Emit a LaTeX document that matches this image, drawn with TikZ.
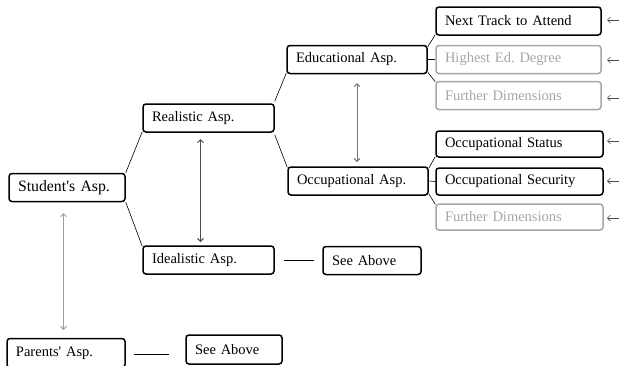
\documentclass[tikz,border=0pt]{standalone}
\usepackage{fontspec}
\setmainfont{Liberation Serif}
\usetikzlibrary{arrows.meta}
\definecolor{dimgray}{HTML}{A6A6A6}
\tikzset{
  box/.style={draw, line width=1.5pt, rounded corners=3pt, inner xsep=9pt,
    inner ysep=0pt, minimum height=28pt, align=left, font=\fontsize{14.5}{16}\selectfont,
    anchor=center},
  faded/.style={box, draw=dimgray, text=dimgray},
  link/.style={line width=0.6pt},
  rel/.style={line width=0.9pt, {Straight Barb[length=3pt,width=6pt]}-{Straight Barb[length=3pt,width=6pt]}},
  pointer/.style={line width=0.6pt, draw=black!70, -{Straight Barb[length=3pt,width=6pt]}}
}
\frenchspacing
\begin{document}
\begin{tikzpicture}[x=1pt,y=-1pt]
\useasboundingbox (0,0) rectangle (619,365);

% left column
\node[box, text width=98pt, font=\fontsize{15.8}{17}\selectfont] (stud) at (67,187.5) {Student\textquotesingle s Asp.};
\node[box, text width=100pt, minimum height=29pt] (par) at (66,353) {Parents\textquotesingle\ Asp.};
\node[box, text width=78pt, minimum height=29pt] (seeB) at (234,349.5) {See Above};

% middle column
\node[box, text width=113pt] (real) at (208.5,118) {Realistic Asp.};
\node[box, text width=113pt] (ideal) at (208.5,260) {Idealistic Asp.};
\node[box, text width=80pt] (seeA) at (372,260.5) {See Above};

% domains
\node[box, text width=122pt] (edu) at (357,59.5) {Educational Asp.};
\node[box, text width=122pt] (occ) at (358,181) {Occupational Asp.};

% dimensions
\node[box, text width=147pt] (track) at (518.5,21) {Next Track to Attend};
\node[faded, text width=147pt] (degree) at (518.5,59.5) {Highest Ed. Degree};
\node[faded, text width=147pt] (furthE) at (518.5,95.5) {Further Dimensions};
\node[box, text width=149pt, minimum height=26pt] (status) at (519.5,144) {Occupational Status};
\node[box, text width=149pt, minimum height=27pt] (secur) at (519.5,181.5) {Occupational Security};
\node[faded, text width=149pt, minimum height=26pt] (furthO) at (519.5,217) {Further Dimensions};

% tree links
\draw[link] (stud.north east) -- ([yshift=1pt]real.south west);
\draw[link] (stud.south east) -- ([yshift=-1pt]ideal.north west);
\draw[link] (real.north east) ++(0,-2) -- ([yshift=1pt]edu.south west);
\draw[link] (real.south east) ++(0,2) -- ([yshift=-1pt]occ.north west);
\draw[link] ([yshift=-2pt]edu.north east) -- ([yshift=1pt]track.south west);
\draw[link] (edu.east) -- (degree.west);
\draw[link] ([yshift=2pt]edu.south east) -- ([yshift=-1pt]furthE.north west);
\draw[link] ([yshift=-2pt]occ.north east) -- ([yshift=1pt]status.south west);
\draw[link] (occ.east) -- (secur.west);
\draw[link] ([yshift=2pt]occ.south east) -- ([yshift=-1pt]furthO.north west);
\draw[link] ([xshift=9pt]ideal.east) -- ([xshift=-8pt]ideal.east -| seeA.west);
\draw[link] ([xshift=8pt,yshift=-1pt]par.east) -- ([xshift=-16pt,yshift=-1pt]par.east -| seeB.west);

% reciprocal relations
\coordinate (rA) at (200.5,139);
\coordinate (rB) at (200.5,242);
\draw[rel, draw=black!70] (rA) -- (rB);
\coordinate (eA) at (357,83);
\coordinate (eB) at (357,162);
\draw[rel, draw=black!55] (eA) -- (eB);
\coordinate (sA) at (63.5,213);
\coordinate (sB) at (63.5,330);
\draw[rel, draw=black!38] (sA) -- (sB);

% incoming pointers on the right margin
\foreach \n/\yy in {p1/20, p2/60, p3/98, p4/141, p5/181, p6/218}{
  \coordinate (\n s) at (622,\yy);
  \coordinate (\n e) at (607,\yy);
  \draw[pointer] (\n s) -- (\n e);
}
\end{tikzpicture}
\end{document}
